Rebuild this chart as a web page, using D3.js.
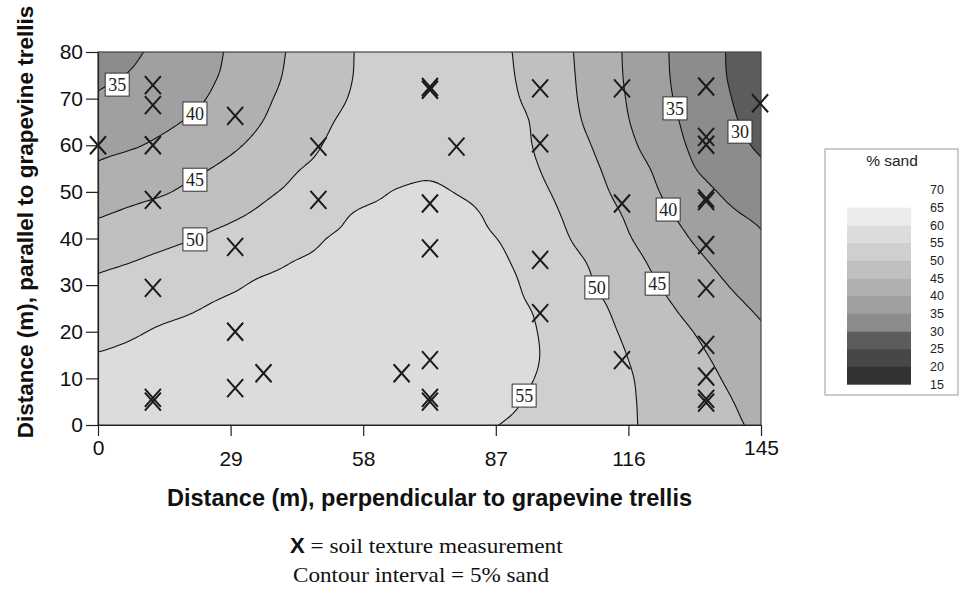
<!DOCTYPE html>
<html>
<head>
<meta charset="utf-8">
<script src="https://cdn.jsdelivr.net/npm/d3@7"></script>
<style>
  body { margin: 0; background: #fff; }
  svg { display: block; }
</style>
</head>
<body>
<svg id="chart" width="960" height="593"></svg>
<script>
// ---------------- DATA ----------------
// grid node positions (m)
const gridX = [0, 7.25, 14.5, 21.75, 29, 36.25, 43.5, 50.75, 58, 65.25, 72.5, 79.75, 87, 94.25, 101.5, 108.75, 116, 123.25, 130.5, 137.75, 145];
const gridY = [0, 5, 10, 15, 20, 25, 30, 35, 40, 45, 50, 55, 60, 65, 70, 75, 80];
// % sand at each grid node, one row per gridY value (bottom row first)
const sandGrid = [
  [58.0, 58.1, 58.2, 58.3, 58.4, 58.5, 58.3, 58.1, 57.8, 57.6, 57.2, 56.1, 55.1, 54.0, 52.8, 51.6, 50.4, 48.9, 47.4, 45.8, 44.2],
  [57.8, 57.9, 58.0, 58.1, 58.2, 58.3, 58.1, 57.9, 57.6, 57.4, 57.0, 56.5, 56.0, 54.7, 53.2, 51.8, 50.4, 48.7, 47.0, 45.3, 43.5],
  [57.0, 57.2, 57.3, 57.5, 57.7, 57.8, 57.6, 57.4, 57.3, 57.1, 56.8, 56.3, 55.8, 55.2, 53.6, 51.9, 50.3, 48.4, 46.5, 44.6, 42.7],
  [55.2, 55.7, 56.0, 56.3, 56.5, 56.5, 56.4, 56.4, 56.3, 56.3, 56.1, 55.9, 55.7, 55.5, 53.6, 51.8, 49.9, 47.9, 45.8, 43.8, 41.7],
  [53.8, 54.6, 55.4, 55.8, 56.2, 56.5, 56.7, 56.8, 56.8, 56.7, 56.5, 56.3, 55.9, 55.4, 53.4, 51.4, 49.3, 47.1, 44.9, 42.8, 40.6],
  [52.3, 53.2, 54.1, 54.9, 55.7, 56.1, 56.3, 56.4, 56.4, 56.3, 56.1, 55.9, 55.6, 55.05, 53.0, 50.9, 48.5, 46.0, 43.6, 41.4, 39.3],
  [50.8, 51.7, 52.7, 53.6, 54.5, 55.5, 55.8, 56.0, 56.2, 56.3, 56.4, 56.4, 56.3, 54.4, 52.2, 50.0, 47.4, 44.8, 42.4, 40.0, 37.9],
  [49.1, 49.95, 51.0, 52.0, 53.1, 54.1, 55.1, 55.5, 55.8, 55.9, 56.0, 56.0, 55.75, 53.7, 51.6, 49.3, 46.5, 43.7, 41.0, 38.7, 36.7],
  [46.9, 48.0, 49.0, 50.1, 51.3, 52.6, 53.8, 55.1, 55.4, 55.6, 55.7, 55.6, 55.05, 52.8, 50.6, 48.0, 45.3, 42.4, 39.6, 37.5, 35.5],
  [44.7, 45.85, 47.0, 48.2, 49.4, 50.8, 52.4, 54.0, 55.5, 55.8, 55.9, 55.9, 54.1, 52.0, 49.9, 47.2, 44.4, 41.0, 38.3, 35.8, 34.2],
  [42.7, 43.7, 44.7, 46.2, 47.8, 49.35, 50.85, 52.3, 53.7, 55.2, 55.6, 54.6, 52.9, 51.2, 49.2, 46.3, 43.2, 39.8, 36.7, 34.3, 32.6],
  [40.6, 41.9, 43.1, 44.4, 46.0, 47.9, 49.8, 51.0, 52.1, 53.3, 54.3, 53.0, 51.8, 50.6, 48.4, 45.5, 42.2, 38.8, 35.1, 32.9, 30.8],
  [38.8, 39.6, 40.9, 42.6, 44.3, 46.3, 48.5, 50.4, 51.5, 52.65, 53.7, 52.5, 51.4, 50.2, 47.6, 44.6, 41.0, 37.45, 34.2, 31.6, 29.3],
  [37.2, 38.3, 39.3, 40.8, 42.9, 45.1, 47.5, 49.8, 51.1, 52.3, 53.4, 52.2, 51.1, 50.02, 46.9, 43.7, 40.15, 36.7, 33.6, 30.8, 28.5],
  [35.5, 36.85, 38.2, 39.5, 41.7, 44.3, 46.7, 49.1, 50.7, 51.9, 53.0, 52.1, 50.9, 49.5, 46.5, 43.2, 39.7, 36.1, 33.1, 30.3, 27.9],
  [34.0, 35.3, 37.0, 38.8, 40.8, 43.5, 46.2, 48.65, 50.5, 51.7, 52.85, 51.9, 50.8, 49.2, 46.25, 43.0, 39.4, 35.8, 32.8, 29.9, 27.5],
  [32.5, 34.3, 36.2, 38.3, 40.5, 43.2, 45.9, 48.5, 50.45, 51.5, 52.7, 51.8, 50.7, 49.05, 46.1, 42.8, 39.3, 35.7, 32.7, 29.8, 27.2]
];
const contourLevels = [30, 35, 40, 45, 50, 55];
const bandThresholds = [15, 20, 25, 30, 35, 40, 45, 50, 55, 60];
const bandColors = ["#333333", "#474747", "#5c5c5c", "#8c8c8c", "#a0a0a0", "#b0b0b0", "#c0c0c0", "#cfcfcf", "#dcdcdc", "#ececec"];
const legendLabels = [70, 65, 60, 55, 50, 45, 40, 35, 30, 25, 20, 15];
const xTicks = [0, 29, 58, 87, 116, 145];
const yTicks = [0, 10, 20, 30, 40, 50, 60, 70, 80];
// soil texture measurement locations (m)
const measurements = [
  [0, 60],
  [12, 72.9], [12, 68.6], [12, 60], [12, 48.3], [12, 29.4], [12, 5.8], [12, 5.0],
  [30, 66.3], [30, 38.2], [30, 20], [30, 7.9],
  [36.2, 11.1],
  [48.2, 59.7], [48.2, 48.3],
  [66.4, 11.1],
  [72.6, 72.5], [72.6, 71.9], [72.6, 47.5], [72.6, 37.9], [72.6, 13.9], [72.6, 5.8], [72.6, 5.0],
  [78.4, 59.7],
  [96.7, 72.2], [96.7, 60.4], [96.7, 35.4], [96.7, 24],
  [114.6, 72.2], [114.6, 47.5], [114.6, 13.9],
  [133, 72.6], [133, 61.8], [133, 60.1], [133, 48.6], [133, 48.0], [133, 38.6], [133, 29.3],
  [133, 17.2], [133, 10.4], [133, 5.6], [133, 4.8],
  [144.8, 69]
];
// contour label values and where they sit (m)
const contourLabels = [
  { v: 35, x: 4.2, y: 72.9 },
  { v: 40, x: 21.2, y: 66.7 },
  { v: 45, x: 21.2, y: 52.5 },
  { v: 50, x: 21.2, y: 39.7 },
  { v: 55, x: 93.2, y: 6.2 },
  { v: 50, x: 109.1, y: 29.4 },
  { v: 45, x: 122.3, y: 30.2 },
  { v: 40, x: 124.7, y: 46.1 },
  { v: 35, x: 126.2, y: 67.8 },
  { v: 30, x: 140.4, y: 62.8 }
];

// ---------------- DRAWING ----------------
const svg = d3.select("#chart");
const sans = "'Liberation Sans', Arial, Helvetica, sans-serif";
const serif = "'Liberation Serif', 'Times New Roman', serif";

const x = d3.scaleLinear().domain([0, 145]).range([98, 761]);
const y = d3.scaleLinear().domain([0, 80]).range([425, 52]);

svg.append("defs").append("clipPath").attr("id", "plotClip")
  .append("rect")
  .attr("x", x(0)).attr("y", y(80))
  .attr("width", x(145) - x(0)).attr("height", y(0) - y(80));

// smooth resampling of the grid for drawing (Catmull-Rom)
const nCols = gridX.length, nRows = gridY.length;
function g(c, r) {
  if (c < 0) return 2 * g(0, r) - g(1, r);
  if (c > nCols - 1) return 2 * g(nCols - 1, r) - g(nCols - 2, r);
  if (r < 0) return 2 * g(c, 0) - g(c, 1);
  if (r > nRows - 1) return 2 * g(c, nRows - 1) - g(c, nRows - 2);
  return sandGrid[r][c];
}
function cr(p0, p1, p2, p3, t) {
  return 0.5 * (2 * p1 + (-p0 + p2) * t + (2 * p0 - 5 * p1 + 4 * p2 - p3) * t * t + (-p0 + 3 * p1 - 3 * p2 + p3) * t * t * t);
}
function sample(gc, gr) {
  const c = Math.min(Math.floor(gc), nCols - 2), r = Math.min(Math.floor(gr), nRows - 2);
  const tc = gc - c, tr = gr - r;
  const rowsV = [];
  for (let dr = -1; dr <= 2; dr++) {
    rowsV.push(cr(g(c - 1, r + dr), g(c, r + dr), g(c + 1, r + dr), g(c + 2, r + dr), tc));
  }
  return cr(rowsV[0], rowsV[1], rowsV[2], rowsV[3], tr);
}
const K = 8;
const nx = (nCols - 1) * K + 1, ny = (nRows - 1) * K + 1;
const values = new Array(nx * ny);
for (let j = 0; j < ny; j++) {
  for (let i = 0; i < nx; i++) {
    values[j * nx + i] = sample(i / K, (nRows - 1) - j / K);
  }
}
const dxStep = gridX[1] - gridX[0], dyStep = gridY[1] - gridY[0];
const yTop = gridY[nRows - 1];
const proj = d3.geoTransform({
  point: function (px, py) {
    const dx = gridX[0] + (px - 0.5) / K * dxStep;
    const dy = yTop - (py - 0.5) / K * dyStep;
    this.stream.point(x(dx), y(dy));
  }
});
const path = d3.geoPath(proj);
const contourGen = d3.contours().size([nx, ny]);

const plot = svg.append("g").attr("clip-path", "url(#plotClip)");
plot.selectAll("path.band")
  .data(contourGen.thresholds(bandThresholds)(values))
  .join("path")
  .attr("class", "band")
  .attr("d", path)
  .attr("fill", (d, i) => bandColors[i])
  .attr("stroke", "none");
plot.selectAll("path.iso")
  .data(contourGen.thresholds(contourLevels)(values))
  .join("path")
  .attr("class", "iso")
  .attr("d", path)
  .attr("fill", "none")
  .attr("stroke", "#111")
  .attr("stroke-width", 1.1);

// plot frame
svg.append("rect")
  .attr("x", x(0)).attr("y", y(80))
  .attr("width", x(145) - x(0)).attr("height", y(0) - y(80))
  .attr("fill", "none").attr("stroke", "#444").attr("stroke-width", 1.2);

// contour labels
const lab = svg.append("g").selectAll("g").data(contourLabels).join("g")
  .attr("transform", d => `translate(${x(d.x)},${y(d.y)})`);
lab.append("rect").attr("x", -12).attr("y", -12).attr("width", 24).attr("height", 23)
  .attr("fill", "#fff").attr("stroke", "#333").attr("stroke-width", 1);
lab.append("text").text(d => d.v)
  .attr("text-anchor", "middle").attr("y", 6)
  .attr("font-family", serif).attr("font-size", 18).attr("fill", "#222");

// measurement markers
svg.append("g").selectAll("path").data(measurements).join("path")
  .attr("transform", d => `translate(${x(d[0])},${y(d[1])})`)
  .attr("d", "M-8,-9L8,9M8,-9L-8,9")
  .attr("fill", "none").attr("stroke", "#1a1a1a").attr("stroke-width", 2);

// axes
const yAxis = svg.append("g").attr("transform", `translate(${x(0)},0)`)
  .call(d3.axisLeft(y).tickValues(yTicks).tickSize(12).tickSizeOuter(0).tickPadding(3));
const xAxis = svg.append("g").attr("transform", `translate(0,${y(0)})`)
  .call(d3.axisBottom(x).tickValues(xTicks).tickSize(11).tickSizeOuter(0).tickPadding(15));
[yAxis, xAxis].forEach(a => {
  a.attr("font-family", sans).attr("font-size", 21);
  a.selectAll("path,line").attr("stroke", "#222").attr("stroke-width", 1.2);
  a.selectAll("text").attr("fill", "#111");
});
xAxis.selectAll(".tick text").attr("dy", (d, i) => (i === 0 || i === xTicks.length - 1) ? "0.2em" : "0.71em");

// axis titles
svg.append("text")
  .attr("x", (x(0) + x(145)) / 2).attr("y", 506)
  .attr("text-anchor", "middle")
  .attr("font-family", sans).attr("font-weight", "bold").attr("font-size", 23.5).attr("fill", "#111")
  .text("Distance (m), perpendicular to grapevine trellis");
svg.append("text")
  .attr("transform", "translate(33,222) rotate(-90)")
  .attr("text-anchor", "middle")
  .attr("font-family", sans).attr("font-weight", "bold").attr("font-size", 22.5).attr("fill", "#111")
  .text("Distance (m), parallel to grapevine trellis");

// legend
const lg = svg.append("g");
lg.append("rect").attr("x", 825).attr("y", 149).attr("width", 133).attr("height", 246)
  .attr("fill", "#fff").attr("stroke", "#999").attr("stroke-width", 1);
lg.append("text").attr("x", 892).attr("y", 166).attr("text-anchor", "middle")
  .attr("font-family", sans).attr("font-size", 15.5).attr("fill", "#222").text("% sand");
const bandH = 17.67, barTop = 207.7;
const revColors = bandColors.slice().reverse();
lg.selectAll("rect.lb").data(revColors).join("rect").attr("class", "lb")
  .attr("x", 847).attr("y", (d, i) => barTop + i * bandH)
  .attr("width", 64).attr("height", bandH + 0.3)
  .attr("fill", d => d);
lg.selectAll("text.ll").data(legendLabels).join("text").attr("class", "ll")
  .attr("x", 930).attr("y", (d, i) => barTop + (i - 1) * bandH)
  .attr("dy", "0.35em")
  .attr("font-family", sans).attr("font-size", 12.5).attr("fill", "#222")
  .text(d => d);

// notes
const n1 = svg.append("text").attr("x", 290).attr("y", 553)
  .attr("font-family", serif).attr("font-size", 21).attr("fill", "#111");
n1.append("tspan").attr("font-family", sans).attr("font-weight", "bold").attr("font-size", 22).text("X");
n1.append("tspan").attr("textLength", 258).attr("lengthAdjust", "spacingAndGlyphs").text(" = soil texture measurement");
svg.append("text").attr("x", 293).attr("y", 582)
  .attr("font-family", serif).attr("font-size", 21).attr("fill", "#111")
  .attr("textLength", 256).attr("lengthAdjust", "spacingAndGlyphs")
  .text("Contour interval = 5% sand");
</script>
</body>
</html>
